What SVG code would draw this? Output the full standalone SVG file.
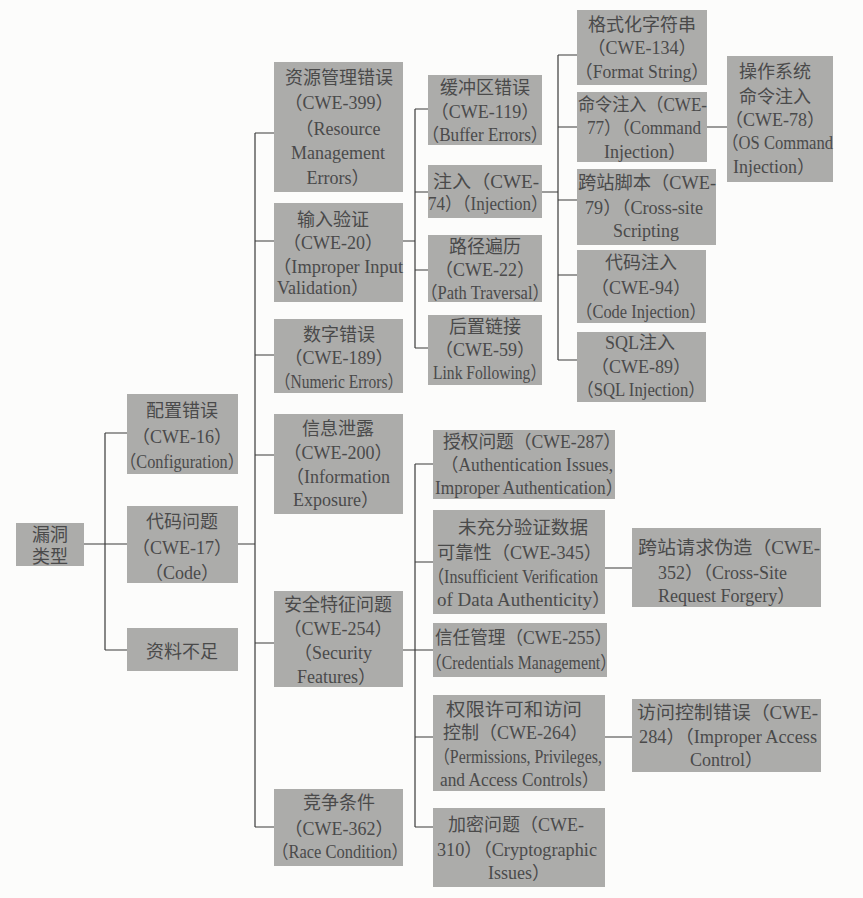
<svg xmlns="http://www.w3.org/2000/svg" width="863" height="898" viewBox="0 0 863 898">
<style>
.bg{fill:#fcfcfb}
.box{fill:#acacaa}
text{font-family:"Liberation Serif","Noto Sans CJK SC",serif;font-size:18px;fill:#4a4a4a}
.m{text-anchor:middle}
.c{stroke:#3a3a3a;stroke-width:1.2;fill:none}
</style>
<rect class="bg" x="0" y="0" width="863" height="898"/>
<g id="connectors">
<path class="c" d="M84,544H127M105,433V650M105,433H127M105,650H127"/>
<path class="c" d="M238,544H255M255,133V827M255,133H274M255,241H274M255,355H274M255,455H274M255,643H274M255,827H274"/>
<path class="c" d="M403,241H415M415,109V348M415,109H428M415,192H428M415,270H428M415,348H428"/>
<path class="c" d="M542,192H558M558,55V360M558,55H577M558,127H577M558,200H577M558,275H577M558,360H577M707,127H727"/>
<path class="c" d="M403,650H415M415,464V827M415,464H433M415,562H433M415,650H433M415,737H433M415,827H433M605,568H632M605,737H632"/>
</g>
<g id="n-root"><rect class="box" x="16" y="523" width="68" height="43"/>
<text class="m" x="50" y="541">漏洞</text><text class="m" x="50" y="563">类型</text></g>
<g id="n-cwe16"><rect class="box" x="127" y="394" width="111" height="80"/>
<text class="m" x="182" y="417">配置错误</text><text class="m" x="182" y="443">（CWE-16）</text><text class="m" x="182" y="468" textLength="124" lengthAdjust="spacingAndGlyphs">（Configuration）</text></g>
<g id="n-cwe17"><rect class="box" x="127" y="506" width="111" height="77"/>
<text class="m" x="182" y="528">代码问题</text><text class="m" x="182" y="554">（CWE-17）</text><text class="m" x="182" y="579">（Code）</text></g>
<g id="n-insufficient"><rect class="box" x="127" y="628" width="111" height="43"/>
<text class="m" x="182" y="658">资料不足</text></g>
<g id="n-cwe399"><rect class="box" x="274" y="62" width="129" height="130"/>
<text class="m" x="339" y="84">资源管理错误</text><text class="m" x="339" y="109">（CWE-399）</text><text class="m" x="338" y="135">（Resource</text><text class="m" x="338" y="159">Management</text><text class="m" x="338" y="184">Errors）</text></g>
<g id="n-cwe20"><rect class="box" x="274" y="203" width="129" height="99"/>
<text class="m" x="333" y="226">输入验证</text><text class="m" x="333" y="249">（CWE-20）</text><text class="m" x="338" y="273" textLength="130" lengthAdjust="spacingAndGlyphs">（Improper Input</text><text x="277" y="294">Validation）</text></g>
<g id="n-cwe189"><rect class="box" x="274" y="319" width="129" height="74"/>
<text class="m" x="339" y="341">数字错误</text><text class="m" x="339" y="364">（CWE-189）</text><text class="m" x="339" y="388" textLength="128" lengthAdjust="spacingAndGlyphs">（Numeric Errors）</text></g>
<g id="n-cwe200"><rect class="box" x="274" y="414" width="129" height="100"/>
<text class="m" x="338" y="435">信息泄露</text><text class="m" x="338" y="459">（CWE-200）</text><text class="m" x="338" y="483">（Information</text><text x="293" y="506">Exposure）</text></g>
<g id="n-cwe254"><rect class="box" x="274" y="591" width="129" height="96"/>
<text class="m" x="338" y="611">安全特征问题</text><text class="m" x="338" y="635">（CWE-254）</text><text class="m" x="333" y="659">（Security</text><text x="297" y="683">Features）</text></g>
<g id="n-cwe362"><rect class="box" x="274" y="789" width="129" height="77"/>
<text class="m" x="339" y="809">竞争条件</text><text class="m" x="339" y="835">（CWE-362）</text><text class="m" x="340" y="858" textLength="136" lengthAdjust="spacingAndGlyphs">（Race Condition）</text></g>
<g id="n-cwe119"><rect class="box" x="428" y="75" width="114" height="70"/>
<text class="m" x="485" y="94">缓冲区错误</text><text class="m" x="485" y="118">（CWE-119）</text><text class="m" x="485" y="141" textLength="126" lengthAdjust="spacingAndGlyphs">（Buffer Errors）</text></g>
<g id="n-cwe74"><rect class="box" x="428" y="165" width="114" height="53"/>
<text x="433" y="188" textLength="106" lengthAdjust="spacingAndGlyphs">注入（CWE-</text><text x="428" y="210" textLength="120" lengthAdjust="spacingAndGlyphs">74）（Injection）</text></g>
<g id="n-cwe22"><rect class="box" x="428" y="235" width="114" height="67"/>
<text class="m" x="485" y="253">路径遍历</text><text class="m" x="485" y="276">（CWE-22）</text><text class="m" x="485" y="299" textLength="128" lengthAdjust="spacingAndGlyphs">（Path Traversal）</text></g>
<g id="n-cwe59"><rect class="box" x="428" y="315" width="114" height="70"/>
<text class="m" x="485" y="333">后置链接</text><text class="m" x="485" y="356">（CWE-59）</text><text x="433" y="379" textLength="113" lengthAdjust="spacingAndGlyphs">Link Following）</text></g>
<g id="n-cwe134"><rect class="box" x="577" y="10" width="130" height="75"/>
<text class="m" x="642" y="31">格式化字符串</text><text class="m" x="642" y="54">（CWE-134）</text><text class="m" x="642" y="78" textLength="134" lengthAdjust="spacingAndGlyphs">（Format String）</text></g>
<g id="n-cwe77"><rect class="box" x="577" y="92" width="130" height="70"/>
<text x="578" y="111" textLength="129" lengthAdjust="spacingAndGlyphs">命令注入（CWE-</text><text x="587" y="134" textLength="114" lengthAdjust="spacingAndGlyphs">77）（Command</text><text class="m" x="645" y="158">Injection）</text></g>
<g id="n-cwe79"><rect class="box" x="577" y="169" width="139" height="76"/>
<text x="578" y="189" textLength="138" lengthAdjust="spacingAndGlyphs">跨站脚本（CWE-</text><text x="585" y="214" textLength="118" lengthAdjust="spacingAndGlyphs">79）（Cross-site</text><text class="m" x="646" y="237">Scripting</text></g>
<g id="n-cwe94"><rect class="box" x="577" y="250" width="129" height="73"/>
<text class="m" x="641" y="269">代码注入</text><text class="m" x="641" y="294">（CWE-94）</text><text class="m" x="641" y="318" textLength="130" lengthAdjust="spacingAndGlyphs">（Code Injection）</text></g>
<g id="n-cwe89"><rect class="box" x="577" y="332" width="129" height="70"/>
<text class="m" x="640" y="349">SQL注入</text><text class="m" x="641" y="373">（CWE-89）</text><text class="m" x="641" y="396" textLength="128" lengthAdjust="spacingAndGlyphs">（SQL Injection）</text></g>
<g id="n-cwe78"><rect class="box" x="727" y="56" width="106" height="126"/>
<text class="m" x="775" y="78">操作系统</text><text class="m" x="775" y="103">命令注入</text><text class="m" x="775" y="126">（CWE-78）</text><text x="722" y="149" textLength="111" lengthAdjust="spacingAndGlyphs">（OS Command</text><text x="733" y="173">Injection）</text></g>
<g id="n-cwe287"><rect class="box" x="433" y="430" width="182" height="69"/>
<text x="443" y="448" textLength="178" lengthAdjust="spacingAndGlyphs">授权问题（CWE-287）</text><text x="441" y="471" textLength="172" lengthAdjust="spacingAndGlyphs">（Authentication Issues,</text><text x="435" y="494" textLength="188" lengthAdjust="spacingAndGlyphs">Improper Authentication）</text></g>
<g id="n-cwe345"><rect class="box" x="433" y="510" width="172" height="104"/>
<text class="m" x="523" y="534" textLength="130" lengthAdjust="spacingAndGlyphs">未充分验证数据</text><text x="437" y="559" textLength="165" lengthAdjust="spacingAndGlyphs">可靠性（CWE-345）</text><text x="428" y="583" textLength="170" lengthAdjust="spacingAndGlyphs">（Insufficient Verification</text><text x="437" y="606" textLength="174" lengthAdjust="spacingAndGlyphs">of Data Authenticity）</text></g>
<g id="n-cwe255"><rect class="box" x="433" y="623" width="174" height="54"/>
<text x="435" y="644" textLength="177" lengthAdjust="spacingAndGlyphs">信任管理（CWE-255）</text><text x="426" y="669" textLength="190" lengthAdjust="spacingAndGlyphs">（Credentials Management）</text></g>
<g id="n-cwe264"><rect class="box" x="433" y="695" width="172" height="96"/>
<text class="m" x="514" y="716" textLength="136" lengthAdjust="spacingAndGlyphs">权限许可和访问</text><text x="443" y="739">控制（CWE-264）</text><text x="434" y="763" textLength="168" lengthAdjust="spacingAndGlyphs">（Permissions, Privileges,</text><text x="440" y="786" textLength="159" lengthAdjust="spacingAndGlyphs">and Access Controls）</text></g>
<g id="n-cwe310"><rect class="box" x="433" y="808" width="172" height="79"/>
<text x="448" y="831">加密问题（CWE-</text><text x="437" y="856" textLength="160" lengthAdjust="spacingAndGlyphs">310）（Cryptographic</text><text x="488" y="879">Issues）</text></g>
<g id="n-cwe352"><rect class="box" x="632" y="528" width="189" height="79"/>
<text x="638" y="554" textLength="182" lengthAdjust="spacingAndGlyphs">跨站请求伪造（CWE-</text><text x="658" y="579">352）（Cross-Site</text><text x="658" y="602">Request Forgery）</text></g>
<g id="n-cwe284"><rect class="box" x="632" y="699" width="189" height="73"/>
<text x="637" y="719" textLength="181" lengthAdjust="spacingAndGlyphs">访问控制错误（CWE-</text><text x="639" y="743" textLength="178" lengthAdjust="spacingAndGlyphs">284）（Improper Access</text><text x="690" y="766">Control）</text></g>
</svg>
